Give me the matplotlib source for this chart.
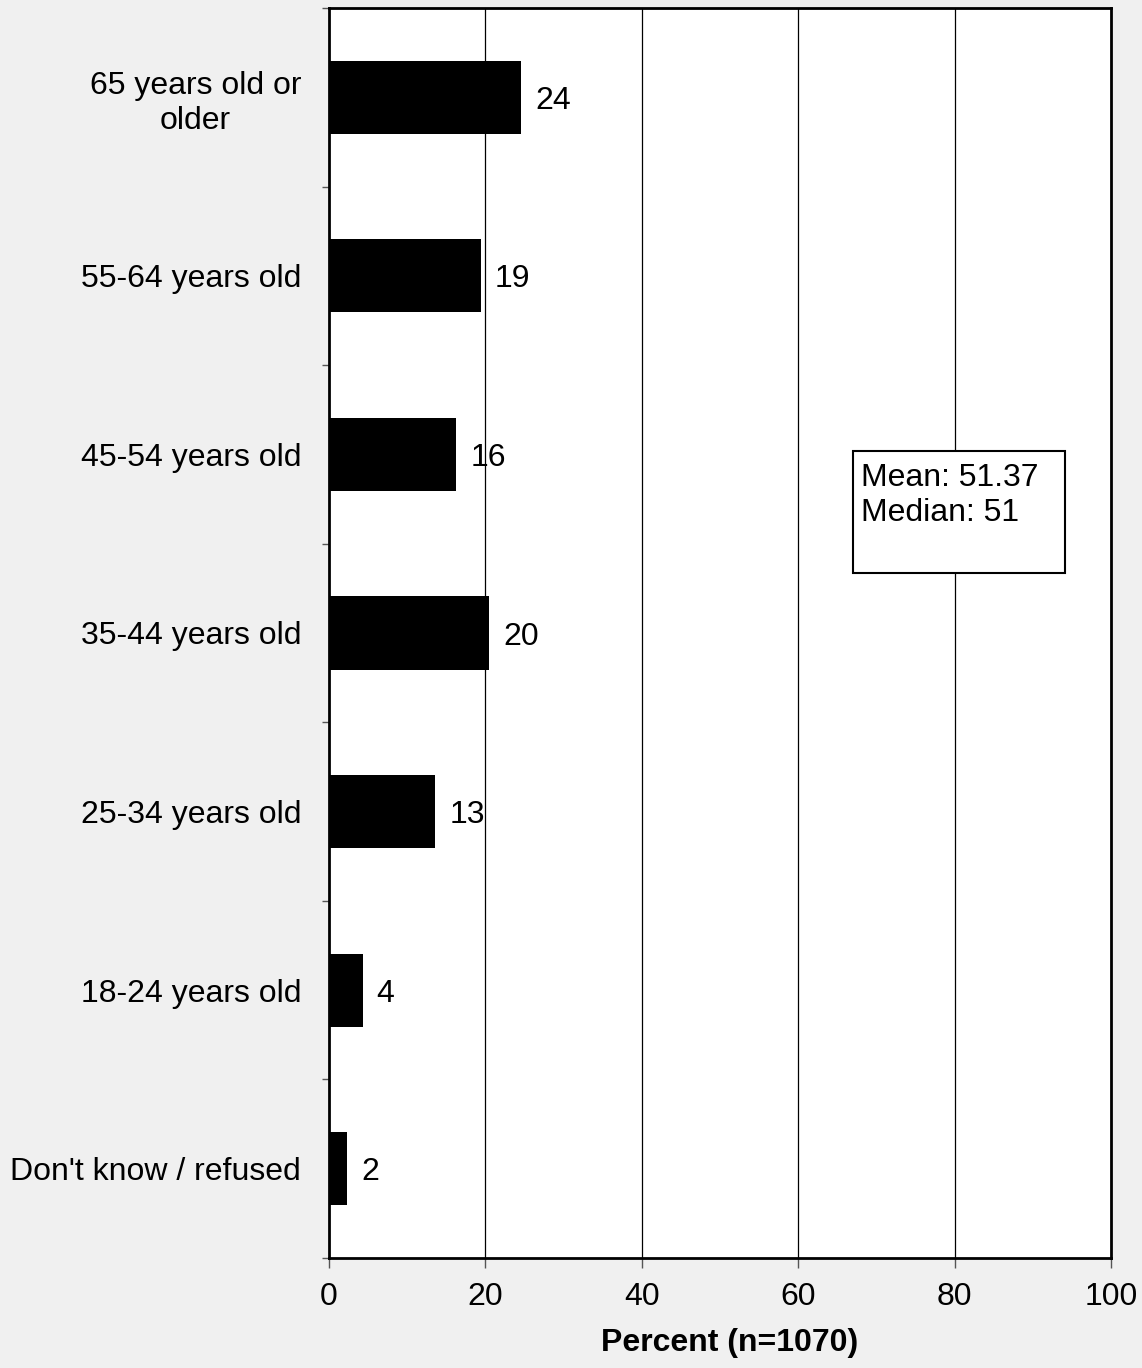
import numpy as np
import matplotlib.pyplot as plt
from matplotlib.patches import Rectangle

plt.rcParams['font.family'] = ['Liberation Sans', 'DejaVu Sans']

# data, top to bottom
categories = ["65 years old or\nolder", "55-64 years old", "45-54 years old",
              "35-44 years old", "25-34 years old", "18-24 years old",
              "Don't know / refused"]
values = [24.6, 19.4, 16.3, 20.5, 13.6, 4.3, 2.3]
labels = ["24", "19", "16", "20", "13", "4", "2"]
xticks = [0, 20, 40, 60, 80, 100]
stats_text = "Mean: 51.37\nMedian: 51"

FS = 23

fig = plt.figure(figsize=(11.42, 13.68), dpi=100)
fig.patch.set_facecolor('#f0f0f0')
ax = fig.add_axes([0.288, 0.0804, 0.6848, 0.9138])
ax.set_facecolor('white')

n = len(categories)
ypos = np.arange(n)[::-1]
ax.barh(ypos, values, height=0.41, color='black', zorder=3)
for y, v, lab in zip(ypos, values, labels):
    ax.text(v + 1.8, y - 0.02, lab, va='center', ha='left', fontsize=FS, zorder=4)

ax.set_xlim(0, 100)
ax.set_ylim(-0.5, n - 0.5)
ax.set_xticks(xticks)
ax.set_xticklabels([str(t) for t in xticks], fontsize=FS)
ax.tick_params(axis='x', length=7, width=1, pad=10, color='#555555')

ax.set_yticks(ypos)
ax.set_yticklabels(categories, fontsize=FS, multialignment='center',
                   linespacing=1.22)
ax.tick_params(axis='y', which='major', length=0, pad=20)
ax.set_yticks(np.arange(n + 1) - 0.5, minor=True)
ax.tick_params(axis='y', which='minor', length=5, width=1, color='#555555')

for x in xticks[1:-1]:
    ax.axvline(x, color='black', lw=0.9, zorder=1)

for s in ax.spines.values():
    s.set_linewidth(2)
    s.set_color('black')

ax.set_xlabel("Percent (n=1070)", fontsize=FS, fontweight='bold')
ax.xaxis.set_label_coords(0.513, -0.056)

box = Rectangle((0.670, 0.548), 0.271, 0.0976, transform=ax.transAxes,
                facecolor='white', edgecolor='black', lw=1.5, zorder=5)
ax.add_patch(box)
ax.text(0.680, 0.636, stats_text, transform=ax.transAxes, va='top', ha='left',
        fontsize=FS, linespacing=1.22, zorder=6)

fig.savefig("out.png", dpi=100, facecolor=fig.get_facecolor())
